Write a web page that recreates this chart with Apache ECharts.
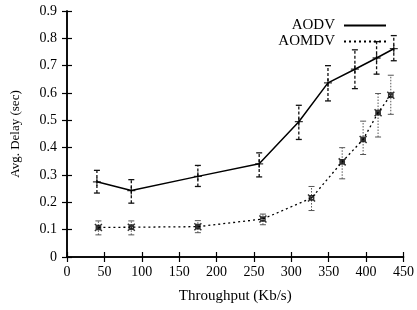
<!DOCTYPE html>
<html><head><meta charset="utf-8">
<script src="https://cdn.jsdelivr.net/npm/echarts@6/dist/echarts.min.js"></script>
<style>html,body{margin:0;padding:0;background:#fff}#c{width:417px;height:310px}</style>
</head><body><div id="c"></div>
<script>
var xTicks = [0, 50, 100, 150, 200, 250, 300, 350, 400, 450];
var yTicks = [0, 0.1, 0.2, 0.3, 0.4, 0.5, 0.6, 0.7, 0.8, 0.9];
var seriesNames = ['AODV', 'AOMDV'];
var aodvX = [40, 86, 175, 257, 310, 349, 385, 414, 437];
var aodvY = [0.275, 0.243, 0.295, 0.341, 0.495, 0.637, 0.687, 0.728, 0.762];
var aodvLo = [0.234, 0.197, 0.258, 0.293, 0.43, 0.571, 0.616, 0.669, 0.718];
var aodvHi = [0.317, 0.283, 0.335, 0.381, 0.555, 0.70, 0.758, 0.788, 0.81];
var aomdvX = [42, 86, 175, 262, 327, 368, 396, 416, 433];
var aomdvY = [0.108, 0.109, 0.111, 0.139, 0.216, 0.348, 0.43, 0.528, 0.592];
var aomdvLo = [0.081, 0.081, 0.089, 0.118, 0.17, 0.286, 0.375, 0.439, 0.522];
var aomdvHi = [0.132, 0.132, 0.133, 0.157, 0.258, 0.40, 0.497, 0.598, 0.665];

var font = '"Liberation Serif", "DejaVu Serif", serif';
function pairs(xs, ys) { return xs.map(function (x, i) { return [x, ys[i]]; }); }
function errs(xs, lo, hi) { return xs.map(function (x, i) { return [x, lo[i], hi[i]]; }); }
function errRender(dash, color, width) {
  return function (params, api) {
    var x = api.value(0);
    var p1 = api.coord([x, api.value(1)]);
    var p2 = api.coord([x, api.value(2)]);
    var w = 3;
    var st = { stroke: color, lineWidth: width, lineDash: dash };
    var st2 = { stroke: color, lineWidth: width };
    return { type: 'group', children: [
      { type: 'line', shape: { x1: p1[0], y1: p1[1], x2: p2[0], y2: p2[1] }, style: st },
      { type: 'line', shape: { x1: p1[0] - w, y1: p1[1], x2: p1[0] + w, y2: p1[1] }, style: st2 },
      { type: 'line', shape: { x1: p2[0] - w, y1: p2[1], x2: p2[0] + w, y2: p2[1] }, style: st2 }
    ]};
  };
}
var axisLine = { show: true, lineStyle: { color: '#000', width: 1.5 } };
var tick = { show: true, inside: true, length: 5, lineStyle: { color: '#000', width: 1.2 } };
var chart = echarts.init(document.getElementById('c'));
chart.setOption({
  animation: false,
  backgroundColor: '#fff',
  grid: { left: 67, right: 11, top: 11, bottom: 53 },
  legend: {
    orient: 'vertical', right: 25, top: 13, align: 'right', itemGap: 1,
    itemWidth: 42, itemHeight: 10,
    itemStyle: { opacity: 0 },
    textStyle: { fontFamily: font, fontSize: 15, color: '#000', padding: [0, 4, 0, 0] },
    data: seriesNames
  },
  xAxis: [{
    type: 'value', min: 0, max: 450, interval: 50,
    name: 'Throughput (Kb/s)', nameLocation: 'middle', nameGap: 32,
    nameTextStyle: { fontFamily: font, fontSize: 15, color: '#000' },
    axisLine: axisLine, axisTick: tick, splitLine: { show: false },
    axisLabel: { fontFamily: font, fontSize: 14, color: '#000', margin: 8 }
  }, {
    type: 'value', min: 0, max: 450, interval: 50, position: 'top',
    axisLine: axisLine, axisTick: tick, splitLine: { show: false }, axisLabel: { show: false }
  }],
  yAxis: [{
    type: 'value', min: 0, max: 0.9, interval: 0.1,
    name: 'Avg. Delay (sec)', nameLocation: 'middle', nameGap: 45,
    nameTextStyle: { fontFamily: font, fontSize: 13, color: '#000' },
    axisLine: axisLine, axisTick: tick, splitLine: { show: false },
    axisLabel: { fontFamily: font, fontSize: 14, color: '#000', margin: 10,
      formatter: function (v) { return String(Math.round(v * 10) / 10); } }
  }, {
    type: 'value', min: 0, max: 0.9, interval: 0.1, position: 'right',
    axisLine: axisLine, axisTick: tick, splitLine: { show: false }, axisLabel: { show: false }
  }],
  series: [
    { name: seriesNames[0], type: 'line', data: pairs(aodvX, aodvY), symbol: 'none',
      lineStyle: { color: '#000', width: 1.5, type: 'solid' }, itemStyle: { color: '#000' } },
    { name: seriesNames[1], type: 'line', data: pairs(aomdvX, aomdvY), symbol: 'none',
      lineStyle: { color: '#000', width: 1.3, type: [2, 3] }, itemStyle: { color: '#000' } },
    { type: 'custom', data: errs(aodvX, aodvLo, aodvHi), renderItem: errRender([3, 2], '#111', 1.3), z: 3 },
    { type: 'custom', data: errs(aomdvX, aomdvLo, aomdvHi), renderItem: errRender([1.5, 1.5], '#555', 1), z: 3 },
    { type: 'scatter', data: pairs(aodvX, aodvY), symbol: 'path://M0,5L10,5M5,0L5,10', symbolSize: 8,
      itemStyle: { color: 'none', borderColor: '#000', borderWidth: 1.3 }, z: 4 },
    { type: 'scatter', data: pairs(aomdvX, aomdvY), symbol: 'path://M0,0L10,10M10,0L0,10M2,2L8,2L8,8L2,8Z', symbolSize: 7,
      itemStyle: { color: 'none', borderColor: '#000', borderWidth: 1.5 }, z: 4 }
  ]
});
</script></body></html>
